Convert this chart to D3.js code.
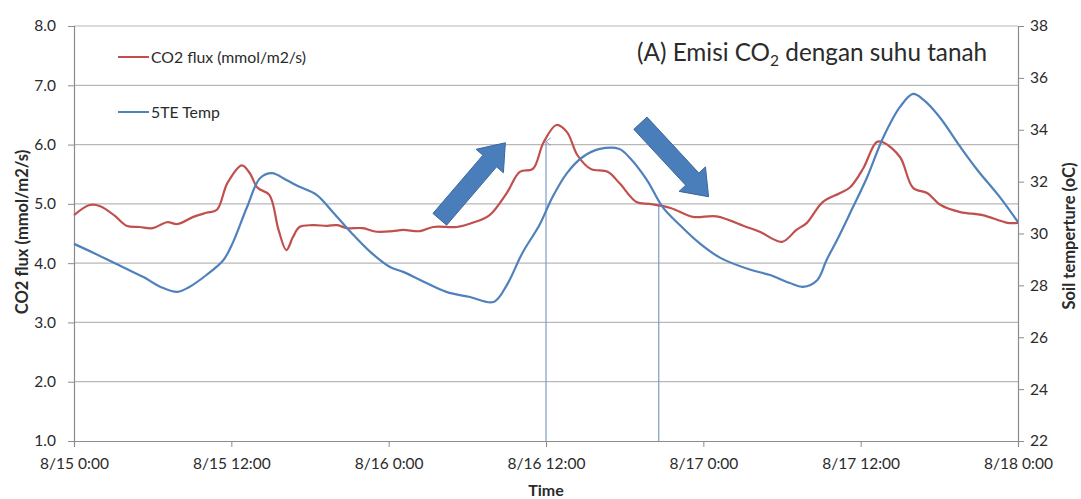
<!DOCTYPE html>
<html><head><meta charset="utf-8">
<script src="https://cdn.jsdelivr.net/npm/d3@7"></script>
<style>body{margin:0;background:#fff}svg{display:block}text{font-family:Lato,"Open Sans",sans-serif}</style>
</head><body><svg id="c" width="1081" height="499"></svg>
<script>
// hours since 8/15 0:00
const hoursCO2 = [0,1.2,2.0,3.1,4.0,5.0,6.0,7.1,7.9,9.1,10.1,10.9,11.7,12.8,13.4,14.0,14.9,15.6,16.2,16.7,17.2,18.2,19.3,20.1,20.8,22.0,23.1,24.3,25.1,26.4,27.4,29.2,30.4,31.7,33.0,34.0,35.0,35.8,36.8,37.6,38.4,39.4,40.7,41.6,42.9,43.9,45.5,47.2,49.0,51.3,52.3,54.0,55.1,55.9,57.1,58.4,59.2,60.2,61.2,61.7,63.0,64.0,65.1,66.1,67.6,69.3,71.2,72];
const co2Flux = [4.81,4.98,4.96,4.80,4.63,4.61,4.59,4.69,4.66,4.78,4.85,4.90,5.35,5.65,5.52,5.27,5.15,4.56,4.22,4.44,4.61,4.64,4.63,4.64,4.59,4.59,4.53,4.54,4.56,4.54,4.61,4.61,4.68,4.81,5.18,5.54,5.59,6.03,6.33,6.21,5.82,5.59,5.54,5.35,5.03,5.00,4.93,4.78,4.79,4.61,4.53,4.36,4.56,4.68,5.03,5.18,5.28,5.60,6.04,6.04,5.79,5.27,5.18,4.98,4.86,4.81,4.68,4.68];
const hoursTemp = [0,1.5,3.7,5.3,6.6,7.9,8.8,10.1,11.4,12.1,13.2,14.2,15.1,16.2,17.2,18.5,19.8,21.1,22.6,24.1,25.1,26.4,28.4,30.2,32.0,33.0,34.2,35.5,36.5,37.6,38.8,40.1,41.6,42.4,43.7,44.9,46.2,47.7,49.3,51.6,53.1,54.6,55.6,56.7,57.4,58.2,59.2,60.5,61.7,63.0,64.0,64.8,66.0,67.6,68.9,70.6,72];
const soilTemp = [29.6,29.25,28.71,28.32,27.94,27.75,27.94,28.4,28.98,29.63,31.02,32.14,32.33,32.06,31.8,31.49,30.79,30.06,29.29,28.71,28.52,28.21,27.75,27.55,27.36,28.0,29.25,30.33,31.41,32.33,32.95,33.26,33.26,32.91,32.06,31.02,30.33,29.63,29.06,28.6,28.4,28.09,27.94,28.21,28.98,29.75,30.79,32.18,33.68,34.88,35.38,35.15,34.5,33.34,32.45,31.41,30.44];
const xTickHours = [0,12,24,36,48,60,72];
const xTickLabels = ["8/15 0:00","8/15 12:00","8/16 0:00","8/16 12:00","8/17 0:00","8/17 12:00","8/18 0:00"];
const leftTicks = [1,2,3,4,5,6,7,8];
const rightTicks = [22,24,26,28,30,32,34,36,38];
const seriesNames = ["CO2 flux (mmol/m2/s)","5TE Temp"];
// annotations (hours, CO2 value)
const markerLines = [[36.0,6.05],[44.6,5.0]];
const blockArrows = [[[27.9,4.74],[32.9,6.03]],[[43.2,6.36],[48.4,5.12]]];

const svg = d3.select("#c");
const L=74,R=1018,T=26,B=441;
const t0 = new Date(2013,7,15,0,0);
const toDate = h => new Date(t0.getTime()+h*3600e3);
const x = d3.scaleTime().domain([toDate(0),toDate(72)]).range([L,R]);
const y = d3.scaleLinear().domain([1,8]).range([B,T]);
const y2 = d3.scaleLinear().domain([22,38]).range([B,T]);
const red="#c0504d", blue="#4f81bd", grid="#b8b8b8", axisC="#8c8c8c", txt="#2b2b2b";

svg.append("rect").attr("width",1081).attr("height",499).attr("fill","#fff");
// gridlines
svg.append("g").selectAll("line").data(leftTicks.slice(1)).join("line")
  .attr("x1",L).attr("x2",R).attr("y1",d=>y(d)).attr("y2",d=>y(d))
  .attr("stroke",grid).attr("stroke-width",1.2);

// axes
const gL = svg.append("g").attr("transform",`translate(${L},0)`)
  .call(d3.axisLeft(y).tickValues(leftTicks).tickFormat(d3.format(".1f")).tickSize(6).tickPadding(12));
const gR = svg.append("g").attr("transform",`translate(${R},0)`)
  .call(d3.axisRight(y2).tickValues(rightTicks).tickFormat(d3.format("d")).tickSize(6).tickPadding(6));
const gX = svg.append("g").attr("transform",`translate(0,${B})`)
  .call(d3.axisBottom(x).tickValues(xTickHours.map(toDate)).tickFormat((d,i)=>xTickLabels[i]).tickSize(6).tickPadding(11));
[gL,gR,gX].forEach(g=>{
  g.select(".domain").attr("stroke",axisC).attr("stroke-width",1.2);
  g.selectAll(".tick line").attr("stroke",axisC);
  g.selectAll(".tick text").attr("fill",txt).style("font-size","15.5px").style("font-family","Lato");
});

// marker lines
const defs = svg.append("defs");
defs.append("marker").attr("id","open").attr("viewBox","0 0 10 10").attr("refX",5).attr("refY",1)
  .attr("markerWidth",8).attr("markerHeight",8).attr("orient","auto-start-reverse")
  .append("path").attr("d","M1,6 L5,1 L9,6").attr("fill","none").attr("stroke","#7f9cc4").attr("stroke-width",1);
svg.append("g").selectAll("line").data(markerLines).join("line")
  .attr("x1",d=>x(toDate(d[0]))).attr("x2",d=>x(toDate(d[0])))
  .attr("y1",B).attr("y2",d=>y(d[1]))
  .attr("stroke","#7f9cc4").attr("stroke-width",1.2)
  .attr("marker-end",(d,i)=>i===0?"url(#open)":null);

// lines
const curve = d3.curveCatmullRom.alpha(0.5);
const lineCO2 = d3.line().x((d,i)=>x(toDate(hoursCO2[i]))).y(d=>y(d)).curve(curve);
const lineT = d3.line().x((d,i)=>x(toDate(hoursTemp[i]))).y(d=>y2(d)).curve(curve);
svg.append("path").attr("d",lineCO2(co2Flux)).attr("fill","none").attr("stroke",red).attr("stroke-width",2.2);
svg.append("path").attr("d",lineT(soilTemp)).attr("fill","none").attr("stroke",blue).attr("stroke-width",2.2);

// block arrows
function arrowPts(a,b){
  const tx=x(toDate(a[0])), ty=y(a[1]), px=x(toDate(b[0])), py=y(b[1]);
  const dx=px-tx, dy=py-ty, len=Math.hypot(dx,dy), ux=dx/len, uy=dy/len, nx=-uy, ny=ux;
  const sw=9, hw=18, hl=24, bx=px-ux*hl, by=py-uy*hl;
  return [[tx+nx*sw,ty+ny*sw],[bx+nx*sw,by+ny*sw],[bx+nx*hw,by+ny*hw],[px,py],[bx-nx*hw,by-ny*hw],[bx-nx*sw,by-ny*sw],[tx-nx*sw,ty-ny*sw]];
}
svg.append("g").selectAll("polygon").data(blockArrows).join("polygon")
  .attr("points",d=>arrowPts(d[0],d[1]).map(p=>p.join(",")).join(" "))
  .attr("fill","#4a7ebb").attr("stroke","#3a679c").attr("stroke-width",1);

// legend
const leg = svg.append("g");
[[red,57],[blue,112]].forEach((c,i)=>{
  leg.append("line").attr("x1",118).attr("x2",149).attr("y1",c[1]).attr("y2",c[1]).attr("stroke",c[0]).attr("stroke-width",2);
  leg.append("text").attr("x",151).attr("y",c[1]).attr("dy","0.35em").attr("fill",txt).style("font-size","15.8px").text(seriesNames[i]);
});

// title
const tt = svg.append("text").attr("x",637).attr("y",61).attr("fill",txt).style("font-size","24.3px");
tt.append("tspan").text("(A) Emisi CO");
tt.append("tspan").attr("dy",5).style("font-size","15.5px").text("2");
tt.append("tspan").attr("dy",-5).text(" dengan suhu tanah");

// axis titles
svg.append("text").attr("transform","translate(22,232) rotate(-90)").attr("text-anchor","middle").attr("dy","0.35em")
  .attr("fill",txt).style("font-size","16.5px").style("font-weight","bold").text("CO2 flux (mmol/m2/s)");
svg.append("text").attr("transform","translate(1069,236) rotate(-90)").attr("text-anchor","middle").attr("dy","0.35em")
  .attr("fill",txt).style("font-size","16.5px").style("font-weight","bold").text("Soil temperture (oC)");
svg.append("text").attr("x",546).attr("y",496).attr("text-anchor","middle")
  .attr("fill",txt).style("font-size","16px").style("font-weight","bold").text("Time");
</script></body></html>
